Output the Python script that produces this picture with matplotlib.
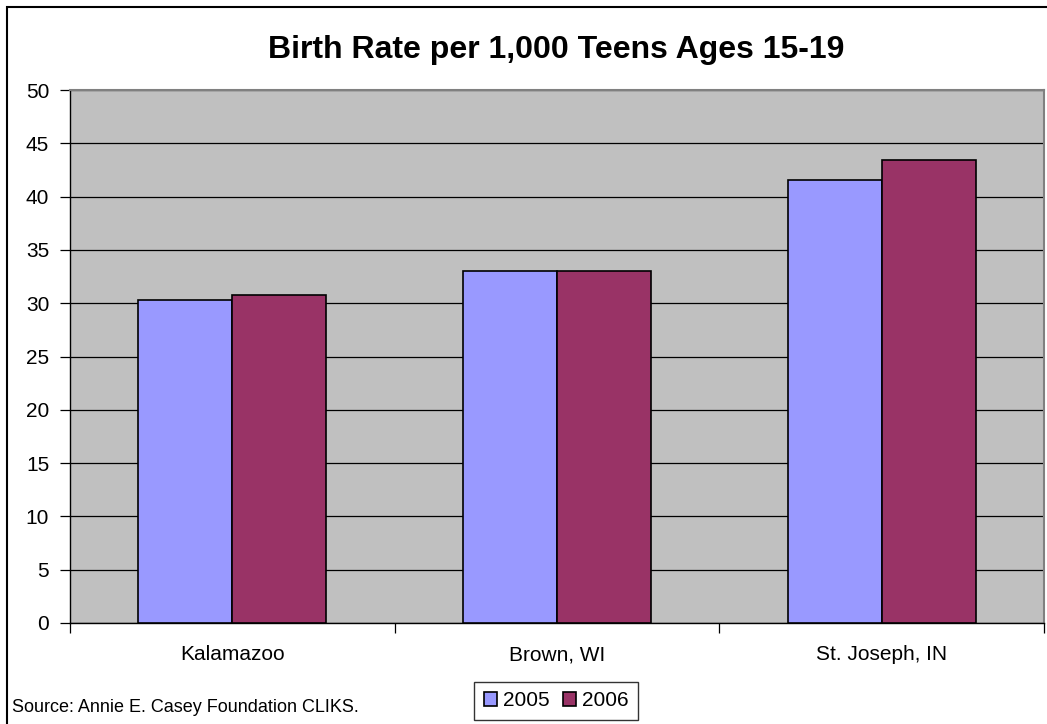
import numpy as np
import matplotlib.pyplot as plt
from matplotlib.patches import Rectangle

# data
counties = ['Kalamazoo', 'Brown, WI', 'St. Joseph, IN']
years = ['2005', '2006']
rate_2005 = [30.3, 33.0, 41.6]
rate_2006 = [30.8, 33.0, 43.4]
yticks = np.arange(0, 55, 5)

plt.rcParams['font.family'] = ['Liberation Sans', 'DejaVu Sans']

W, H = 1047, 724
fig = plt.figure(figsize=(W / 100, H / 100), dpi=100)

# outer chart border (top and left visible, rest clipped)
fig.patches.append(Rectangle((7 / W, -0.05), 1.2, 1 - 7 / H + 0.05,
                             transform=fig.transFigure, fill=False,
                             edgecolor='black', linewidth=1.5))

ax = fig.add_axes([70 / W, 1 - 623 / H, 974 / W, 533 / H])
ax.set_facecolor('#C0C0C0')

x = np.arange(len(counties))
bw = 0.29
ax.bar(x - bw / 2, rate_2005, bw, color='#9999FF', edgecolor='black',
       linewidth=1.2, label=years[0], zorder=3)
ax.bar(x + bw / 2, rate_2006, bw, color='#993366', edgecolor='black',
       linewidth=1.2, label=years[1], zorder=3)

ax.set_xlim(-0.5, len(counties) - 0.5)
ax.set_ylim(0, 50)
ax.set_yticks(yticks)
ax.set_yticklabels([str(v) for v in yticks], fontsize=15)
ax.yaxis.grid(True, color='black', linewidth=0.9)
ax.set_axisbelow(True)

ax.set_xticks(np.arange(len(counties) + 1) - 0.5)
ax.set_xticklabels([])
ax.set_xticks(x, minor=True)
ax.set_xticklabels(counties, minor=True, fontsize=15)
ax.tick_params(axis='x', which='minor', length=0, pad=16)
ax.tick_params(axis='x', which='major', length=7, width=0.9)
ax.tick_params(axis='y', length=7, width=0.9, pad=8)

for s in ['top', 'right']:
    ax.spines[s].set_color('#808080')
    ax.spines[s].set_linewidth(1.5)
for s in ['left', 'bottom']:
    ax.spines[s].set_color('black')
    ax.spines[s].set_linewidth(1)

fig.text(556 / W, 1 - 58 / H, 'Birth Rate per 1,000 Teens Ages 15-19',
         ha='center', va='baseline', fontsize=23, fontweight='bold')
fig.text(12 / W, 1 - 707 / H, 'Source: Annie E. Casey Foundation CLIKS.',
         ha='left', va='center', fontsize=13)

leg = fig.legend(loc='center', bbox_to_anchor=(556 / W, 1 - 701 / H),
                 ncol=2, fontsize=15, frameon=True, fancybox=False,
                 handlelength=0.65, handleheight=0.65, handletextpad=0.25,
                 columnspacing=0.65, borderpad=0.45, borderaxespad=0)
leg.get_frame().set_edgecolor('black')
leg.get_frame().set_linewidth(1)

fig.savefig('out.png', dpi=100)
